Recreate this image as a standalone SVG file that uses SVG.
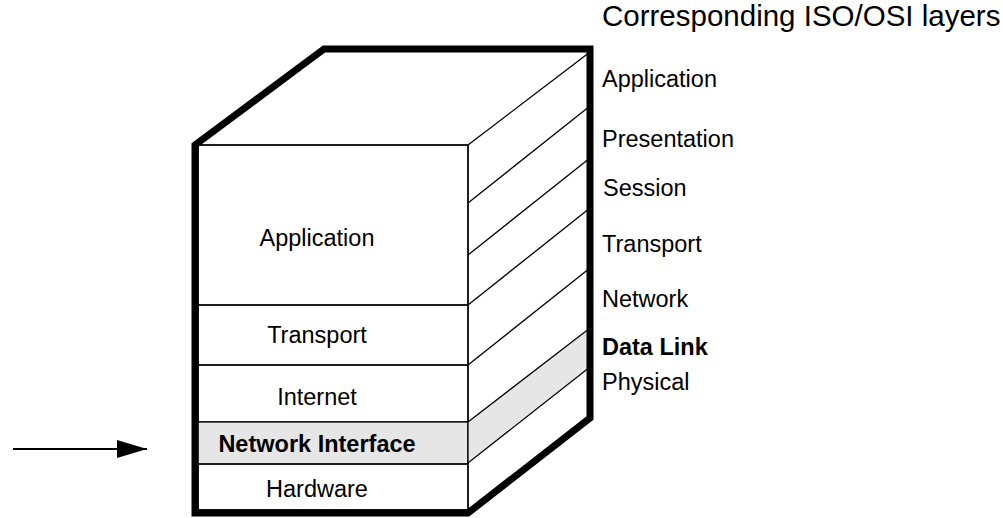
<svg xmlns="http://www.w3.org/2000/svg" width="1003" height="518" viewBox="0 0 1003 518">
<defs>
<style>
.thin{fill:none;stroke:#000;stroke-width:1.3}
.band{fill:#e6e6e6;stroke:#000;stroke-width:1.3}
.thick{fill:none;stroke:#000;stroke-width:7;stroke-linejoin:miter}
.lbl{font-family:"Liberation Sans",Arial,sans-serif;font-size:23.5px;fill:#000}
.mid{text-anchor:middle}
.b{font-weight:bold}
</style>
<marker id="arr" viewBox="0 0 30 18" refX="30" refY="9" markerWidth="30" markerHeight="18" markerUnits="userSpaceOnUse" orient="auto">
<path d="M0,0 L30,9 L0,18 Z" fill="#000"/>
</marker>
</defs>
<rect width="1003" height="518" fill="#fff"/>
<g id="stack">
<rect x="198" y="145" width="270" height="365" fill="#fff" class="thin"/>
<g id="tcp-application"><rect x="198" y="145" width="270" height="160" class="thin"/><text class="lbl mid" x="317" y="246">Application</text></g>
<g id="tcp-transport"><rect x="198" y="305" width="270" height="60" class="thin"/><text class="lbl mid" x="317" y="343">Transport</text></g>
<g id="tcp-internet"><rect x="198" y="365" width="270" height="57" class="thin"/><text class="lbl mid" x="317" y="405">Internet</text></g>
<g id="tcp-netif"><rect x="198" y="422" width="270" height="42" class="band"/><text class="lbl mid b" x="317" y="452">Network Interface</text></g>
<g id="tcp-hardware"><rect x="198" y="464" width="270" height="46" class="thin"/><text class="lbl mid" x="317" y="497">Hardware</text></g>
<g id="side">
<polygon points="468,422 590,328 590,367 468,463" class="band"/>
<line x1="468" y1="145" x2="590" y2="52" class="thin"/>
<line x1="468" y1="203" x2="590" y2="106" class="thin"/>
<line x1="468" y1="255" x2="590" y2="158" class="thin"/>
<line x1="468" y1="305" x2="590" y2="208" class="thin"/>
<line x1="468" y1="365" x2="590" y2="268" class="thin"/>
</g>
<path class="thick" d="M195,513 L195,145 L324,49 L590,49 L590,418 L468,513 Z"/>
</g>
<g id="osi">
<text class="lbl" x="602" y="26" style="font-size:29.5px">Corresponding ISO/OSI layers</text>
<g id="osi-application"><text class="lbl" x="602" y="87">Application</text></g>
<g id="osi-presentation"><text class="lbl" x="602" y="147">Presentation</text></g>
<g id="osi-session"><text class="lbl" x="603" y="196">Session</text></g>
<g id="osi-transport"><text class="lbl" x="602" y="252">Transport</text></g>
<g id="osi-network"><text class="lbl" x="602" y="307">Network</text></g>
<g id="osi-datalink"><text class="lbl b" x="602" y="355">Data Link</text></g>
<g id="osi-physical"><text class="lbl" x="602" y="390">Physical</text></g>
</g>
<g id="connectors">
<line x1="13" y1="449" x2="147" y2="449" stroke="#000" stroke-width="1.8" marker-end="url(#arr)"/>
</g>
</svg>
